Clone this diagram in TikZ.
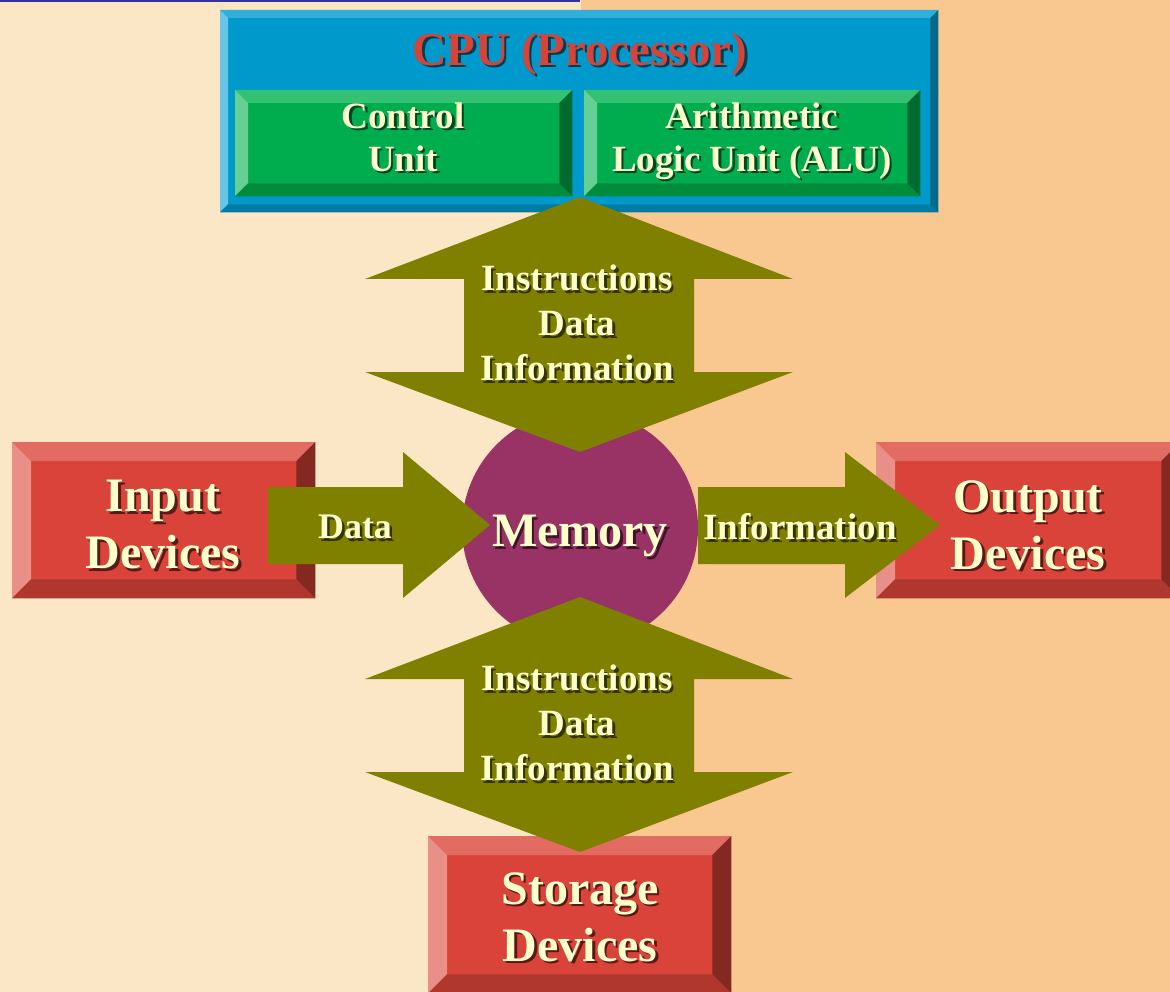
\documentclass[tikz,border=0pt]{standalone}
\usepackage{fontspec}
\setmainfont{Liberation Serif}
\usetikzlibrary{calc}
\definecolor{bgL}{HTML}{FBE7C6}
\definecolor{bgR}{HTML}{F9C890}
\definecolor{topline}{HTML}{3333A0}
\definecolor{redF}{HTML}{D9433A}
\definecolor{redT}{HTML}{E26B62}
\definecolor{redL}{HTML}{E88F88}
\definecolor{redB}{HTML}{B0372E}
\definecolor{redR}{HTML}{842822}
\definecolor{bluF}{HTML}{0099CC}
\definecolor{bluT}{HTML}{33AED8}
\definecolor{bluL}{HTML}{66C4E6}
\definecolor{bluB}{HTML}{007BA3}
\definecolor{bluR}{HTML}{006A8C}
\definecolor{grnF}{HTML}{00AD4E}
\definecolor{grnT}{HTML}{33C173}
\definecolor{grnL}{HTML}{66CF94}
\definecolor{grnB}{HTML}{008C3C}
\definecolor{grnR}{HTML}{006B2E}
\definecolor{olive}{HTML}{808000}
\definecolor{memcol}{HTML}{993366}
\definecolor{cream}{HTML}{FFFFCC}
\definecolor{cpured}{HTML}{D4443A}
\newcommand\bevel[6]{%
 \fill[#3] (#1.north west) -- (#1.north east) -- ([shift={(-#2,-#2)}]#1.north east) -- ([shift={(#2,-#2)}]#1.north west) -- cycle;
 \fill[#4] (#1.north west) -- ([shift={(#2,-#2)}]#1.north west) -- ([shift={(#2,#2)}]#1.south west) -- (#1.south west) -- cycle;
 \fill[#5] (#1.south west) -- ([shift={(#2,#2)}]#1.south west) -- ([shift={(-#2,#2)}]#1.south east) -- (#1.south east) -- cycle;
 \fill[#6] (#1.south east) -- ([shift={(-#2,#2)}]#1.south east) -- ([shift={(-#2,-#2)}]#1.north east) -- (#1.north east) -- cycle;}
\newcommand\shtext[4]{%
 \node[#3, text=black, text opacity=0.6, xshift=2.5pt, yshift=-2.5pt] at (#2) {#4};
 \node[#3] (#1) at (#2) {#4};}
\tikzset{
 boxnode/.style={inner sep=0pt, anchor=north west},
 lbl/.style={align=center, text=cream, inner sep=0pt},
 fsmall/.style={font=\bfseries\fontsize{37}{43}\selectfont},
 fbig/.style={font=\bfseries\fontsize{48}{57}\selectfont},
 farrow/.style={font=\bfseries\fontsize{37}{45}\selectfont},
 bigarrow/.style={fill=olive}
}
\begin{document}
\begin{tikzpicture}[x=1pt,y=-1pt]
\useasboundingbox (0,0) rectangle (1170,992);
\fill[bgL] (0,0) rectangle (581,992);
\fill[bgR] (581,0) rectangle (1170,992);
\fill[topline] (0,0) rectangle (580,2.5);
% CPU box
\node[boxnode, fill=bluF, minimum width=718pt, minimum height=202pt] (cpu) at (220,10) {};
\bevel{cpu}{8pt}{bluT}{bluL}{bluB}{bluR}
\node[boxnode, fill=grnF, minimum width=337pt, minimum height=106pt] (cu) at (235,90) {};
\bevel{cu}{13pt}{grnT}{grnL}{grnB}{grnR}
\node[boxnode, fill=grnF, minimum width=336pt, minimum height=106pt] (alu) at (584,90) {};
\bevel{alu}{13pt}{grnT}{grnL}{grnB}{grnR}
% device boxes
\node[boxnode, fill=redF, minimum width=303pt, minimum height=156pt] (inbox) at (12,442) {};
\bevel{inbox}{19pt}{redT}{redL}{redB}{redR}
\node[boxnode, fill=redF, minimum width=304pt, minimum height=156pt] (outbox) at (876,442) {};
\bevel{outbox}{19pt}{redT}{redL}{redB}{redR}
\node[boxnode, fill=redF, minimum width=303pt, minimum height=157pt] (storbox) at (428,836) {};
\bevel{storbox}{19pt}{redT}{redL}{redB}{redR}
% memory
\node[circle, fill=memcol, minimum size=236pt, inner sep=0pt] (mem) at (580,528) {};
% arrows
\fill[bigarrow] (580,197) -- (793,279) -- (694,279) -- (694,372) -- (793,372) -- (580,452) -- (365,372) -- (464,372) -- (464,279) -- (365,279) -- cycle;
\fill[bigarrow] (580,597) -- (793,679) -- (694,679) -- (694,772) -- (793,772) -- (580,852) -- (365,772) -- (464,772) -- (464,679) -- (365,679) -- cycle;
\fill[bigarrow] (268,487) -- (403,487) -- (403,452) -- (490,525) -- (403,598) -- (403,564) -- (268,564) -- cycle;
\fill[bigarrow] (698,487) -- (845,487) -- (845,452) -- (940,525) -- (845,598) -- (845,564) -- (698,564) -- cycle;
% texts
\shtext{cputxt}{580,54}{lbl, text=cpured, font=\bfseries\fontsize{47}{50}\selectfont}{CPU (Processor)}
\shtext{cutxt}{403,137}{lbl, fsmall}{Control\\Unit}
\shtext{alutxt}{752,141}{lbl, fsmall}{Arithmetic\\Logic Unit (ALU)}
\shtext{intxt}{163,525}{lbl, fbig}{Input\\Devices}
\shtext{outtxt}{1028,525}{lbl, fbig}{Output\\Devices}
\shtext{stortxt}{580,917}{lbl, fbig}{Storage\\Devices}
\shtext{memtxt}{580,536}{lbl, font=\bfseries\fontsize{48}{50}\selectfont}{Memory}
\shtext{datatxt}{355,527}{lbl, font=\bfseries\fontsize{36}{45}\selectfont}{Data}
\shtext{infotxt}{800,527}{lbl, farrow}{Information}
\shtext{uptxt}{577,323}{lbl, farrow}{Instructions\\Data\\Information}
\shtext{dntxt}{577,723}{lbl, farrow}{Instructions\\Data\\Information}
\end{tikzpicture}
\end{document}
